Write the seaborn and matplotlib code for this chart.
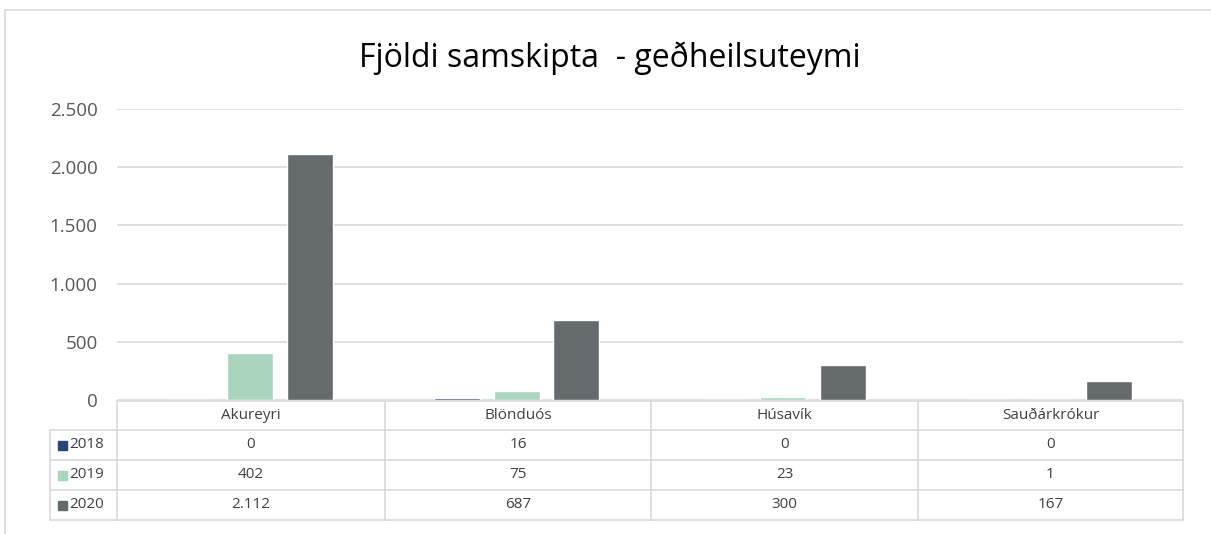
import pandas as pd
import matplotlib.pyplot as plt
import seaborn as sns
from matplotlib.patches import Rectangle

# Gögn
stadir = ['Akureyri', 'Blönduós', 'Húsavík', 'Sauðárkrókur']
ar = ['2018', '2019', '2020']
gildi_2018 = [0, 16, 0, 0]
gildi_2019 = [402, 75, 23, 1]
gildi_2020 = [2112, 687, 300, 167]
litir = ['#264478', '#A9D5BF', '#656A6D']
y_ticks = [0, 500, 1000, 1500, 2000, 2500]

def fmt(v):
    return f'{v:,}'.replace(',', '.')

df = pd.DataFrame({'stadur': stadir * 3,
                   'ar': [a for a in ar for _ in stadir],
                   'fjoldi': gildi_2018 + gildi_2019 + gildi_2020})

sns.set_style('white')
plt.rcParams['font.family'] = ['Open Sans', 'DejaVu Sans']

W, H = 1211, 534
fig = plt.figure(figsize=(W / 100, H / 100), dpi=100)

# ramminn utan um (nær út fyrir myndina til hægri og niður)
fig.add_artist(Rectangle((5 / W, -0.5), 1.5, 1.5 - 10 / H, transform=fig.transFigure,
                         fill=False, edgecolor='#D9D9D9', linewidth=1.2))

x0, x1, yb, yt = 117, 1183, 400, 109
ax = fig.add_axes([x0 / W, 1 - yb / H, (x1 - x0) / W, (yb - yt) / H])
sns.barplot(data=df, x='stadur', y='fjoldi', hue='ar', palette=litir,
            width=0.67, gap=0.23, ax=ax, legend=False, saturation=1)
ax.set_ylim(0, 2500)
ax.set_xlim(-0.5, 3.5)
ax.set_yticks(y_ticks)
ax.set_yticklabels([fmt(v) for v in y_ticks], fontsize=13.5, color='#595959')
ax.tick_params(axis='y', length=0, pad=14)
ax.set_xticks([])
ax.set_xlabel('')
ax.set_ylabel('')
ax.grid(axis='y', color='#D9D9D9', linewidth=1.2)
ax.set_axisbelow(True)
for s in ax.spines.values():
    s.set_visible(False)

fig.text(610 / W, 1 - 58 / H, 'Fjöldi samskipta  - geðheilsuteymi',
         ha='center', va='center', fontsize=23, color='#000000')

# tafla
tax = fig.add_axes([0, 0, 1, 1])
tax.set_xlim(0, W)
tax.set_ylim(H, 0)
tax.axis('off')
lc = '#D9D9D9'
cols = [117, 385, 651, 918, 1183]
rows = [401, 430, 460, 490, 520]
tax.plot([117, 1183], [rows[0], rows[0]], color=lc, lw=1.2)
for r in rows[1:]:
    tax.plot([50, 1183], [r, r], color=lc, lw=1.2)
for c in cols:
    tax.plot([c, c], [rows[0], rows[-1]], color=lc, lw=1.2)
tax.plot([50, 50], [rows[1], rows[-1]], color=lc, lw=1.2)

for i, st in enumerate(stadir):
    cx = (cols[i] + cols[i + 1]) / 2
    tax.text(cx, (rows[0] + rows[1]) / 2, st, ha='center', va='center', fontsize=11, color='#404040')
    for j, vals in enumerate([gildi_2018, gildi_2019, gildi_2020]):
        tax.text(cx, (rows[j + 1] + rows[j + 2]) / 2, fmt(vals[i]), ha='center', va='center',
                 fontsize=11, color='#404040')

for j, a in enumerate(ar):
    cy = (rows[j + 1] + rows[j + 2]) / 2
    tax.add_patch(Rectangle((58, cy - 4.5), 9, 9, color=litir[j]))
    tax.text(69, cy, a, ha='left', va='center', fontsize=11, color='#404040')

fig.savefig('out.png', dpi=100)
